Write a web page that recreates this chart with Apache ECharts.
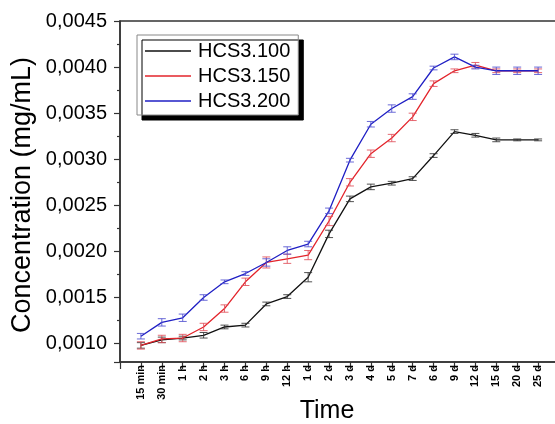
<!DOCTYPE html>
<html>
<head>
<meta charset="utf-8">
<script src="https://cdn.jsdelivr.net/npm/echarts@6/dist/echarts.min.js"></script>
<style>html,body{margin:0;padding:0;background:#fff;}#c{width:555px;height:424px;}</style>
</head>
<body>
<div id="c"></div>
<script>
var categories = ['15 min','30 min','1 h','2 h','3 h','6 h','9 h','12 h','1 d','2 d','3 d','4 d','5 d','7 d','6 d','9 d','12 d','15 d','20 d','25 d'];
var seriesNames = ['HCS3.100','HCS3.150','HCS3.200'];
var hcs100 = [0.00098,0.00104,0.00106,0.00109,0.00118,0.00120,0.00143,0.00151,0.00172,0.00219,0.00257,0.00270,0.00274,0.00279,0.00304,0.00330,0.00326,0.00321,0.00321,0.00321];
var hcs150 = [0.00098,0.00105,0.00106,0.00118,0.00138,0.00167,0.00188,0.00192,0.00196,0.00233,0.00275,0.00306,0.00323,0.00346,0.00382,0.00396,0.00402,0.00396,0.00396,0.00396];
var hcs200 = [0.00108,0.00123,0.00128,0.00150,0.00167,0.00176,0.00188,0.00201,0.00208,0.00244,0.00299,0.00338,0.00355,0.00368,0.00399,0.00411,0.00400,0.00396,0.00396,0.00396];
var err100 = [0.00003,0.00003,0.00002,0.00003,0.00002,0.00002,0.00002,0.00002,0.00005,0.00004,0.00003,0.00003,0.00002,0.00002,0.00002,0.00002,0.00002,0.00002,0.00001,0.00001];
var err150 = [0.00004,0.00004,0.00004,0.00004,0.00004,0.00004,0.00006,0.00005,0.00005,0.00005,0.00004,0.00004,0.00004,0.00004,0.00003,0.00002,0.00003,0.00002,0.00002,0.00002];
var err200 = [0.00003,0.00004,0.00004,0.00003,0.00002,0.00002,0.00004,0.00004,0.00003,0.00003,0.00002,0.00003,0.00004,0.00003,0.00002,0.00003,0.00002,0.00004,0.00004,0.00004];
var yTitle = 'Concentration (mg/mL)';
var xTitle = 'Time';

var colors = ['#111111','#e3242b','#1f1fc4'];
var errColors = ['#333333','#e0505a','#5050d0'];
var FONT = "'Liberation Sans', Arial, sans-serif";

function lineData(vals){ return vals.map(function(v,i){ return [i, v]; }); }
function errData(vals, errs){ return vals.map(function(v,i){ return [i, v-errs[i], v+errs[i]]; }); }
function makeErr(color){
  return function(params, api){
    var x = api.value(0);
    var p1 = api.coord([x, api.value(2)]);
    var p2 = api.coord([x, api.value(1)]);
    var w = 4;
    var st = {stroke: color, lineWidth: 1, opacity: 0.85};
    return {type:'group', children:[
      {type:'line', shape:{x1:p1[0], y1:p1[1], x2:p2[0], y2:p2[1]}, style: st},
      {type:'line', shape:{x1:p1[0]-w, y1:p1[1], x2:p1[0]+w, y2:p1[1]}, style: st},
      {type:'line', shape:{x1:p2[0]-w, y1:p2[1], x2:p2[0]+w, y2:p2[1]}, style: st}
    ]};
  };
}

var allVals = [hcs100, hcs150, hcs200];
var allErrs = [err100, err150, err200];
var series = [];
for (var k = 0; k < 3; k++) {
  series.push({
    name: seriesNames[k], type: 'line', data: lineData(allVals[k]),
    symbol: 'none', lineStyle: {color: colors[k], width: 1.3}, itemStyle: {color: colors[k]},
    z: 2 + k*2, animation: false
  });
  series.push({
    type: 'custom', data: errData(allVals[k], allErrs[k]),
    renderItem: makeErr(errColors[k]), z: 3 + k*2, silent: true, animation: false
  });
}

var chart = echarts.init(document.getElementById('c'), null, {renderer: 'canvas'});
chart.setOption({
  backgroundColor: '#ffffff',
  animation: false,
  textStyle: {fontFamily: FONT},
  grid: {left: 120, top: 21, right: -4, bottom: 62, outerBoundsMode: 'none', containLabel: false,
         show: true, borderColor: '#333', borderWidth: 1.5, backgroundColor: 'transparent'},
  legend: {
    orient: 'vertical', left: 137, top: 35,
    data: seriesNames,
    icon: 'rect',
    itemWidth: 46, itemHeight: 1.5, itemGap: 5,
    padding: [6, 8, 4, 8],
    backgroundColor: '#ffffff',
    borderColor: '#888', borderWidth: 1,
    shadowColor: '#000', shadowBlur: 0, shadowOffsetX: 5, shadowOffsetY: 5,
    textStyle: {fontFamily: FONT, fontSize: 20, color: '#000', lineHeight: 20, padding: [0,0,0,2]}
  },
  xAxis: {
    type: 'value', min: -1, max: 20, interval: 1,
    splitLine: {show: false},
    axisLine: {onZero: false, lineStyle: {color: '#333', width: 1.5}},
    axisTick: {length: 7, lineStyle: {color: '#333', width: 1.2}},
    axisLabel: {
      rotate: 90, margin: 3, fontSize: 11, fontWeight: 'bold', color: '#000', fontFamily: FONT,
      showMinLabel: true, showMaxLabel: true,
      formatter: function(v){ var i = Math.round(v); return (Math.abs(v - i) < 1e-6 && i >= 0 && i < categories.length) ? categories[i] : ''; }
    },
    name: xTitle, nameLocation: 'middle', nameGap: 37, nameMoveOverlap: false,
    nameTextStyle: {fontSize: 25, color: '#000', fontFamily: FONT, padding: [0, 25, 0, 0]}
  },
  yAxis: {
    type: 'value', min: 0.0008, max: 0.0045, splitNumber: 7,
    splitLine: {show: false},
    axisLine: {show: true, onZero: false, lineStyle: {color: '#333', width: 1.5}},
    axisTick: {show: true, length: 6, lineStyle: {color: '#333', width: 1.2}},
    minorTick: {show: true, splitNumber: 2, length: 3, lineStyle: {color: '#333', width: 1.2}},
    axisLabel: {
      margin: 13, fontSize: 20, color: '#000', fontFamily: FONT, showMinLabel: false,
      formatter: function(v){ return v < 0.00095 ? '' : v.toFixed(4).replace('.', ','); }
    },
    name: yTitle, nameLocation: 'middle', nameRotate: 90, nameGap: 84, nameMoveOverlap: false,
    nameTextStyle: {fontSize: 27, color: '#000', fontFamily: FONT, padding: [0, 7, 0, 0]}
  },
  series: series
});
</script>
</body>
</html>
